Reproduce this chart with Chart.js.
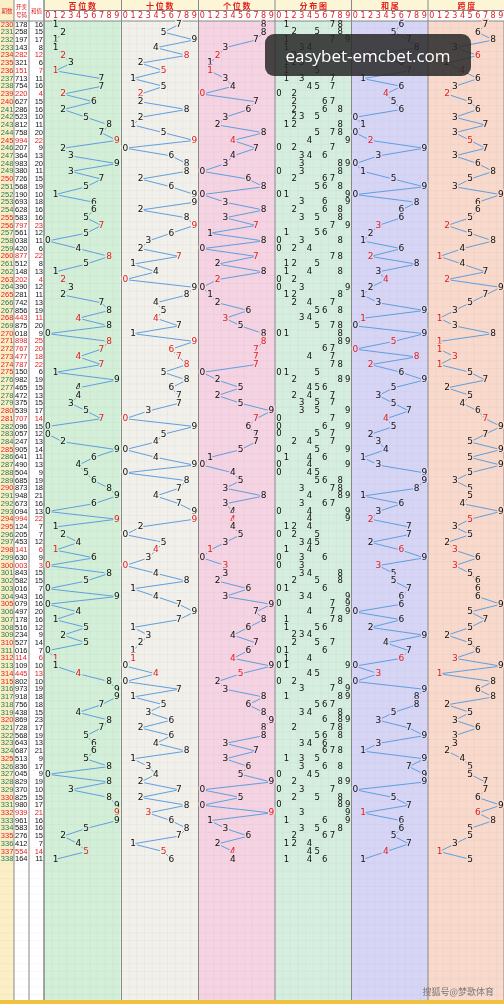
<!DOCTYPE html>
<html lang="zh">
<head>
<meta charset="UTF-8">
<title>走势图</title>
<script src="https://cdn.jsdelivr.net/npm/chart.js"></script>
<style>
  body { margin: 0; background: #fff; }
  #wrap { position: relative; width: 504px; height: 1004px; }
  #mark { position: absolute; left: 265px; top: 34px; width: 206px; height: 42px; border-radius: 9px;
          background: rgba(40,40,40,0.85); color: #fff; font: 17px "Open Sans", sans-serif;
          display: flex; align-items: center; justify-content: center; }
</style>
</head>
<body>
<div id="wrap">
  <canvas id="trend" width="504" height="1004"></canvas>
  <div id="mark">easybet-emcbet.com</div>
</div>
<script>
// 期数 / 开奖号码 / 和值
const firstPeriod = 230;
const draws = ['178','258','197','143','282','321','151','713','754','220','627','286','523','812','758','994','207','364','983','380',
  '726','568','190','693','628','583','797','561','038','420','877','512','148','202','390','281','742','856','443','875',
  '018','898','767','477','787','150','982','465','472','375','539','707','096','057','247','905','641','490','504','685',
  '873','948','673','094','994','124','205','453','141','630','003','843','582','016','943','079','497','178','516','234',
  '527','016','114','109','445','802','973','918','756','438','869','728','568','643','687','513','836','045','829','370',
  '825','980','939','961','583','276','412','554','164'];
const sums = [16,15,17,8,12,6,7,11,16,4,15,16,10,11,20,22,9,13,20,11,
  15,19,10,18,16,16,23,12,11,6,22,8,13,4,12,11,13,19,11,20,
  9,25,20,18,22,6,19,15,13,15,17,14,15,12,13,14,11,13,9,19,
  18,21,16,13,22,7,7,12,6,9,3,15,15,7,16,16,20,16,12,9,
  14,7,6,10,13,10,19,18,18,15,23,17,19,13,21,9,17,9,19,10,
  15,17,21,16,16,15,7,14,11];
const sectionTitles = ['百位数', '十位数', '个位数', '分布图', '和尾', '跨度'];
const digitLabels = ['0','1','2','3','4','5','6','7','8','9'];

const sectionLeft = [44, 121.5, 198.5, 275, 351.5, 428];
const sectionColor = ['#d3efd8', '#f1f0ea', '#f5d3e2', '#d5eedf', '#d7d5f5', '#f8d9cb'];
const colW = 7.66, rowH = 7.73, row0 = 24.5;

// 每期在各栏的数值
function trendValue(sec, i) {
  const d = draws[i].split('').map(Number);
  if (sec < 3) return d[sec];
  if (sec === 4) return sums[i] % 10;
  return Math.max(...d) - Math.min(...d);
}
function isPair(i) { const s = draws[i]; return s[0] === s[1] || s[1] === s[2] || s[0] === s[2]; }
const colX = (sec, d) => sectionLeft[sec] + (d + 0.5) * colW;

const trendSecs = [0, 1, 2, 4, 5];
const datasets = trendSecs.map(sec => ({
  data: draws.map((_, i) => ({ x: colX(sec, trendValue(sec, i)), y: i })),
  borderColor: '#5f9fe0', borderWidth: 1, pointRadius: 0, tension: 0
}));

const tablePlugin = {
  id: 'table',
  beforeDatasetsDraw(chart) {
    const c = chart.ctx, xs = chart.scales.x, ys = chart.scales.y;
    const X = v => xs.getPixelForValue(v), Y = v => ys.getPixelForValue(v);
    const top = Y(-0.5), bottom = 1000;
    c.save();
    // 左侧三栏
    c.fillStyle = '#fbefc6'; c.fillRect(0, 0, X(14), bottom);
    c.fillStyle = '#fff'; c.fillRect(X(14), 0, X(44) - X(14), bottom);
    sectionLeft.forEach((l, s) => {
      c.fillStyle = sectionColor[s]; c.fillRect(X(l), top, X(l + colW * 10) - X(l), bottom - top);
    });
    // 细网格
    c.lineWidth = 0.5; c.strokeStyle = 'rgba(150,150,150,0.14)';
    for (let r = -0.5; Y(r) < bottom; r += 1) {
      c.beginPath(); c.moveTo(0, Y(r)); c.lineTo(504, Y(r)); c.stroke();
    }
    sectionLeft.forEach(l => {
      for (let k = 1; k < 10; k++) { c.beginPath(); c.moveTo(X(l + k * colW), 10.5); c.lineTo(X(l + k * colW), bottom); c.stroke(); }
    });
    // 栏分隔线
    c.strokeStyle = '#888'; c.lineWidth = 1;
    [14, 29, 44, ...sectionLeft, 504].forEach(v => { c.beginPath(); c.moveTo(X(v), 0); c.lineTo(X(v), bottom); c.stroke(); });
    // 表头
    c.fillStyle = '#fdf6d6'; c.fillRect(X(44), 0, 504 - X(44), 10.5);
    c.fillStyle = '#fff'; c.fillRect(X(44), 10.5, 504 - X(44), 10.5);
    c.fillStyle = '#fbefc6'; c.fillRect(0, 0, X(14), 21);
    c.fillStyle = '#fff'; c.fillRect(X(14), 0, X(44) - X(14), 21);
    c.strokeStyle = '#888';
    [14, 29, 44, ...sectionLeft].forEach(v => { c.beginPath(); c.moveTo(X(v), 0); c.lineTo(X(v), 21); c.stroke(); });
    c.beginPath(); c.moveTo(X(44), 10.5); c.lineTo(504, 10.5); c.moveTo(0, 21); c.lineTo(504, 21); c.stroke();
    c.fillStyle = '#e02020'; c.textAlign = 'center'; c.textBaseline = 'middle';
    c.font = 'bold 8px "Noto Sans CJK SC"';
    sectionTitles.forEach((t, s) => c.fillText(t.split('').join(' '), X(sectionLeft[s] + colW * 5), 5.5));
    c.font = '5.5px "Noto Sans CJK SC"';
    c.fillText('期数', X(7), 11);
    c.fillText('开奖', X(21.5), 7); c.fillText('号码', X(21.5), 15);
    c.fillText('和值', X(36.5), 11);
    c.font = '8px "DejaVu Sans"';
    sectionLeft.forEach(l => digitLabels.forEach((d, k) => c.fillText(d, X(l + (k + 0.5) * colW), 16)));
    c.fillStyle = '#f0c040'; c.fillRect(0, 1000, 504, 4);
    c.restore();
  },
  afterDatasetsDraw(chart) {
    const c = chart.ctx, xs = chart.scales.x, ys = chart.scales.y;
    const X = v => xs.getPixelForValue(v), Y = v => ys.getPixelForValue(v);
    c.save(); c.textBaseline = 'middle';
    draws.forEach((n, i) => {
      const y = Y(i), p = firstPeriod + i, red = isPair(i);
      c.font = '7.5px "Liberation Sans"';
      c.textAlign = 'left';
      c.fillStyle = (red || p % 5 === 0) ? '#e02020' : '#1d7a55';
      c.fillText(String(p), X(0.8), y);
      c.fillStyle = red ? '#e02020' : '#111';
      c.fillText(n, X(15), y);
      c.textAlign = 'right';
      c.fillText(String(sums[i]), X(43), y);
      // 走势数字
      c.textAlign = 'center'; c.font = '9px "DejaVu Sans"'; c.lineWidth = 3;
      trendSecs.forEach(sec => {
        const v = trendValue(sec, i), x = X(colX(sec, v));
        c.strokeStyle = sectionColor[sec]; c.strokeText(String(v), x, y);
        c.fillStyle = red ? '#e02020' : '#111'; c.fillText(String(v), x, y);
      });
      // 分布图
      c.font = '8.5px "DejaVu Sans"';
      [...new Set(n.split('').map(Number))].forEach(d => {
        c.fillStyle = '#111'; c.fillText(String(d), X(colX(3, d)), y);
      });
    });
    c.fillStyle = '#777'; c.font = '9px "Noto Sans CJK SC"'; c.textAlign = 'right';
    c.fillText('搜狐号@梦歌体育', 494, 992);
    c.restore();
  }
};

new Chart(document.getElementById('trend'), {
  type: 'line',
  data: { datasets: datasets },
  options: {
    responsive: false, animation: false, parsing: false,
    layout: { padding: 0 },
    plugins: { legend: { display: false }, tooltip: { enabled: false } },
    scales: {
      x: { type: 'linear', min: 0, max: 504, display: false },
      y: { type: 'linear', min: -row0 / rowH, max: (1004 - row0) / rowH, reverse: true, display: false }
    }
  },
  plugins: [tablePlugin]
});
</script>
</body>
</html>
